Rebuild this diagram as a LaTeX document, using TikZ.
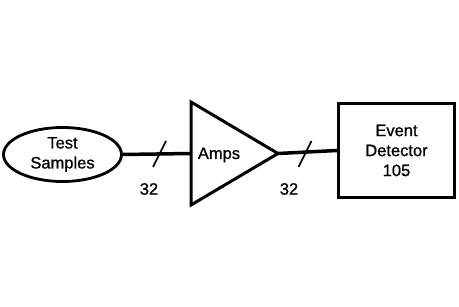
\documentclass[tikz,border=0pt]{standalone}
\usepackage{fontspec}
\setmainfont[FakeBold=0.9]{Liberation Sans}
\usetikzlibrary{calc,positioning,shapes.geometric}

\begin{document}
\begin{tikzpicture}[x=1pt,y=-1pt,
 blk/.style={draw,line width=3.2pt,align=center,inner sep=0pt,font=\fontsize{16.5}{20}\selectfont},
 bus/.style={line width=3.5pt},
 cut/.style={line width=1.6pt},
 lbl/.style={font=\fontsize{16.5}{20}\selectfont}]
\useasboundingbox (0,0) rectangle (459,307);
% source, amplifier and detector
\node[blk,ellipse,line width=2.8pt,minimum width=118pt,minimum height=54pt] (samples) at (62.5,154.5) {Test\\Samples};
\coordinate (ampin) at (191,153.5);
\coordinate (ampout) at (278,153.5);
\draw[line width=3pt] (191,102)--(ampout)--(191,205)--cycle;
\node[lbl] (amps) at (219,155) {Amps};
\node[blk,minimum width=116pt,minimum height=94pt] (detector) at (396.5,150.5) {Event\\Detector\\105};
% 32-wide buses
\draw[bus] (samples.east)--(ampin);
\draw[bus] (ampout)--(detector.west);
\coordinate (cut1) at (159.5,154);
\coordinate (cut2) at (305,154);
\draw[cut] ($(cut1)+(-6.5,13)$)--($(cut1)+(6.5,-13)$);
\draw[cut] ($(cut2)+(-6.5,13)$)--($(cut2)+(6.5,-13)$);
\node[lbl] (w1) at (149,189) {32};
\node[lbl] (w2) at (289,189) {32};
\end{tikzpicture}
\end{document}
